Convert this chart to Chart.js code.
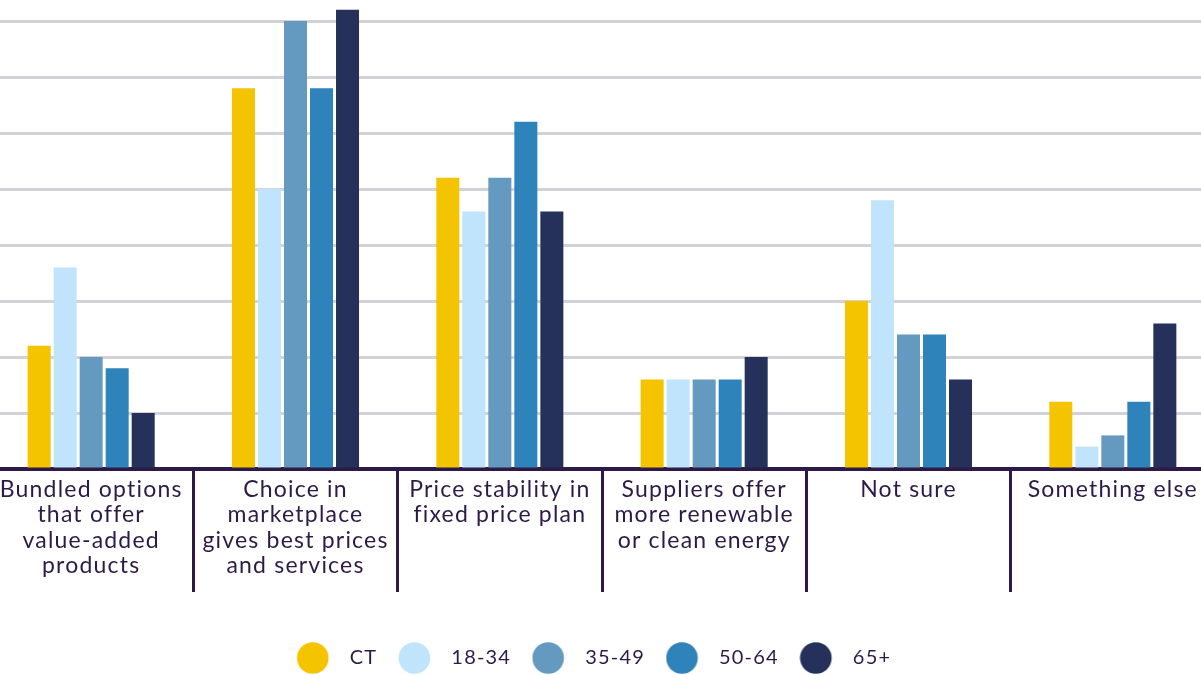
<!DOCTYPE html>
<html>
<head>
<meta charset="utf-8">
<script src="https://cdn.jsdelivr.net/npm/chart.js@4/dist/chart.umd.min.js"></script>
<style>
  html, body { margin: 0; padding: 0; background: #ffffff; overflow: hidden; }
  body { width: 1201px; height: 675px; position: relative; }
  #wrap { position: absolute; left: -11px; top: -35px; width: 1226px; height: 713px; }
</style>
</head>
<body>
<div id="wrap"><canvas id="chart" width="1226" height="713"></canvas></div>
<script>
// Reasons respondents give, split into wrapped lines for the axis
const categories = [
  ["Bundled options", "that offer", "value-added", "products"],
  ["Choice in", "marketplace", "gives best prices", "and services"],
  ["Price stability in", "fixed price plan"],
  ["Suppliers offer", "more renewable", "or clean energy"],
  ["Not sure"],
  ["Something else"]
];

// Share of respondents (%) by group
const seriesNames = ["CT", "18-34", "35-49", "50-64", "65+"];
const ctValues   = [11, 34, 26, 8, 15, 6];
const age1834    = [18, 25, 23, 8, 24, 2];
const age3549    = [10, 40, 26, 8, 12, 3];
const age5064    = [9, 34, 31, 8, 12, 6];
const age65plus  = [5, 41, 23, 10, 8, 13];
const seriesColors = ["#f5c400", "#bfe4fc", "#6499c0", "#2e83bb", "#26315b"];

const ink = "#2e1a47";
const gridGray = "#d4d2d9";

// Round legend markers drawn onto small canvases
function dot(color) {
  const c = document.createElement("canvas");
  c.width = 60; c.height = 34;
  const g = c.getContext("2d");
  g.fillStyle = color;
  g.beginPath();
  g.arc(16.5, 17, 15.8, 0, Math.PI * 2);
  g.fill();
  return c;
}

// Slightly open tracking for all chart text (measured and drawn)
const tracking = {
  id: "tracking",
  beforeLayout(chart) { chart.ctx.letterSpacing = "1.2px"; },
  beforeDraw(chart) { chart.ctx.letterSpacing = "1.2px"; }
};

const seriesValues = [ctValues, age1834, age3549, age5064, age65plus];
const datasets = seriesNames.map((name, i) => ({
  label: name,
  data: seriesValues[i],
  backgroundColor: seriesColors[i],
  borderWidth: 0,
  categoryPercentage: 0.6364,
  barPercentage: 0.8846
}));

new Chart(document.getElementById("chart"), {
  type: "bar",
  data: { labels: categories, datasets },
  plugins: [tracking],
  options: {
    responsive: false,
    animation: false,
    layout: { padding: 0 },
    plugins: {
      tooltip: { enabled: false },
      legend: {
        position: "bottom",
        labels: {
          usePointStyle: true,
          pointStyleWidth: 27,
          padding: 37,
          color: ink,
          font: { family: "Lato", size: 20, weight: "400" },
          generateLabels(chart) {
            const items = Chart.defaults.plugins.legend.labels.generateLabels(chart);
            items.forEach(it => { it.pointStyle = dot(seriesColors[it.datasetIndex]); });
            return items;
          }
        }
      }
    },
    scales: {
      x: {
        z: 1,
        grid: {
          drawOnChartArea: false,
          drawTicks: true,
          tickLength: 123,
          color: ink,
          lineWidth: 3,
          offset: true
        },
        border: { display: true, color: ink, width: 4 },
        ticks: {
          padding: -115,
          color: ink,
          maxRotation: 0,
          autoSkip: false,
          font: { family: "Lato", size: 23, weight: "400", lineHeight: 1.1 }
        },
        afterFit(scale) { scale.height = 142; }
      },
      y: {
        min: 0,
        max: 45,
        ticks: { display: false, stepSize: 5 },
        border: { display: false },
        grid: { color: gridGray, lineWidth: 3, drawTicks: false },
        afterFit(scale) { scale.width = 0; }
      }
    }
  }
});
</script>
</body>
</html>
